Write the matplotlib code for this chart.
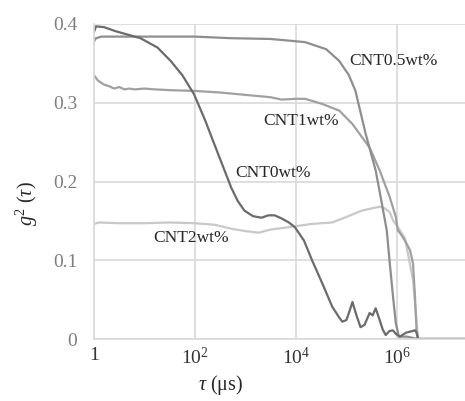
import numpy as np
import matplotlib
matplotlib.use("Agg")
import matplotlib.pyplot as plt
from matplotlib.ticker import FixedLocator, FixedFormatter

plt.rcParams['font.family'] = ['Liberation Serif', 'DejaVu Serif']
plt.rcParams['mathtext.fontset'] = 'custom'
plt.rcParams['mathtext.rm'] = 'Liberation Serif'
plt.rcParams['mathtext.it'] = 'Liberation Serif:italic'

# log10(tau) and g2 values per series
cnt0_logtau = [0.0, 0.04, 0.2, 0.42, 0.92, 1.26, 1.52, 1.75, 1.98, 2.2, 2.38, 2.55, 2.72, 2.85, 2.98,
               3.15, 3.32, 3.45, 3.58, 3.72, 3.86, 3.98, 4.16, 4.32, 4.52, 4.72, 4.85, 4.92, 5.0,
               5.06, 5.12, 5.2, 5.28, 5.36, 5.46, 5.52, 5.58, 5.66, 5.72, 5.78, 5.85, 5.92, 5.99,
               6.06, 6.18, 6.30, 6.36, 6.39, 6.42, 7.35]
cnt0_g2 = [0.390, 0.397, 0.396, 0.391, 0.382, 0.370, 0.353, 0.335, 0.311, 0.278, 0.248, 0.220, 0.192,
           0.175, 0.163, 0.156, 0.154, 0.157, 0.157, 0.153, 0.148, 0.142, 0.125, 0.100, 0.071, 0.041,
           0.028, 0.022, 0.024, 0.035, 0.047, 0.030, 0.015, 0.018, 0.033, 0.030, 0.039, 0.024, 0.012,
           0.005, 0.010, 0.011, 0.006, 0.003, 0.008, 0.010, 0.011, 0.008, 0.0, 0.0]

cnt05_logtau = [0.0, 0.04, 0.15, 0.5, 1.0, 1.5, 2.0, 2.7, 3.5, 4.18, 4.6, 4.86, 5.05, 5.18, 5.38,
                5.58, 5.68, 5.80, 5.86, 5.93, 5.98, 6.04, 6.2, 6.42, 7.35]
cnt05_g2 = [0.378, 0.382, 0.384, 0.384, 0.384, 0.384, 0.384, 0.382, 0.381, 0.377, 0.368, 0.353, 0.335,
            0.315, 0.261, 0.214, 0.180, 0.138, 0.096, 0.050, 0.020, 0.003, 0.003, 0.0, 0.0]

cnt1_logtau = [0.0, 0.08, 0.2, 0.3, 0.4, 0.5, 0.6, 0.7, 0.8, 1.0, 1.2, 1.5, 2.0, 2.5, 3.0, 3.5, 3.72,
               4.0, 4.18, 4.5, 4.86, 5.12, 5.46, 5.66, 5.86, 5.98, 6.02, 6.08, 6.16, 6.26, 6.32, 6.36,
               6.39, 6.42, 7.35]
cnt1_g2 = [0.335, 0.328, 0.323, 0.321, 0.318, 0.320, 0.317, 0.318, 0.317, 0.318, 0.317, 0.316, 0.315,
           0.313, 0.310, 0.307, 0.304, 0.305, 0.305, 0.299, 0.290, 0.273, 0.243, 0.214, 0.180, 0.155,
           0.138, 0.133, 0.125, 0.113, 0.096, 0.053, 0.011, 0.0, 0.0]

cnt2_logtau = [0.0, 0.1, 0.5, 1.0, 1.5, 2.0, 2.4, 2.72, 3.0, 3.26, 3.5, 3.86, 4.3, 4.72, 5.0, 5.3,
               5.66, 5.76, 5.86, 5.92, 6.06, 6.16, 6.32, 6.38, 6.42, 7.35]
cnt2_g2 = [0.146, 0.148, 0.147, 0.147, 0.148, 0.147, 0.145, 0.140, 0.137, 0.135, 0.139, 0.142, 0.146,
           0.148, 0.155, 0.163, 0.168, 0.166, 0.161, 0.151, 0.138, 0.128, 0.075, 0.030, 0.0, 0.0]

series_names = ['CNT0wt%', 'CNT0.5wt%', 'CNT1wt%', 'CNT2wt%']
label_logtau = [2.8, 5.06, 3.36, 1.18]
label_g2 = [0.211, 0.353, 0.277, 0.128]

x_ticks_log = [0, 2, 4, 6]
x_tick_labels = ['1', r'$\mathrm{10^{2}}$', r'$\mathrm{10^{4}}$', r'$\mathrm{10^{6}}$']
y_ticks = [0, 0.1, 0.2, 0.3, 0.4]
y_tick_labels = ['0', '0.1', '0.2', '0.3', '0.4']

fig = plt.figure(figsize=(4.65, 4.01), dpi=100)
ax = fig.add_axes([94/465, 62/401, 371/465, 315/401])

grid_c = '#d9d9d9'
ax.set_axisbelow(True)
ax.grid(True, color=grid_c, linewidth=1.2)

colors = ['#6b6b6b', '#8e8e8e', '#a0a0a0', '#c8c8c8']
datasets = [(cnt2_logtau, cnt2_g2), (cnt1_logtau, cnt1_g2), (cnt05_logtau, cnt05_g2), (cnt0_logtau, cnt0_g2)]
cols = [colors[3], colors[2], colors[1], colors[0]]
for (lt, g), c in zip(datasets, cols):
    ax.plot(10 ** np.array(lt), g, color=c, linewidth=1.6)

for name, lx, ly in zip(series_names, label_logtau, label_g2):
    ax.text(10 ** lx, ly, name, ha='left', va='center', fontsize=12.5, color='#262626')

ax.set_xscale('log')
ax.set_xlim(1, 10 ** 7.35)
ax.set_ylim(0, 0.4)
ax.xaxis.set_major_locator(FixedLocator([10 ** e for e in x_ticks_log]))
ax.xaxis.set_major_formatter(FixedFormatter(x_tick_labels))
ax.xaxis.set_minor_locator(FixedLocator([]))
ax.yaxis.set_major_locator(FixedLocator(y_ticks))
ax.yaxis.set_major_formatter(FixedFormatter(y_tick_labels))
ax.tick_params(axis='both', length=0, labelsize=14, labelcolor='#7f7f7f')
ax.tick_params(axis='y', pad=12)
ax.tick_params(axis='x', pad=6, labelcolor='#333333')
for s in ['top', 'right']:
    ax.spines[s].set_visible(False)
for s in ['left', 'bottom']:
    ax.spines[s].set_color(grid_c)
    ax.spines[s].set_linewidth(1.2)

fig.text(27/465, 1 - 204/401, r'$g^2\ (\tau)$', rotation=90, ha='center', va='center',
         fontsize=14.5, color='#262626')
fig.text(221/465, 1 - 385/401, r'$\tau\ (\mathrm{\mu s})$', ha='center', va='center',
         fontsize=14.5, color='#262626')

fig.savefig('out.png', dpi=100)
